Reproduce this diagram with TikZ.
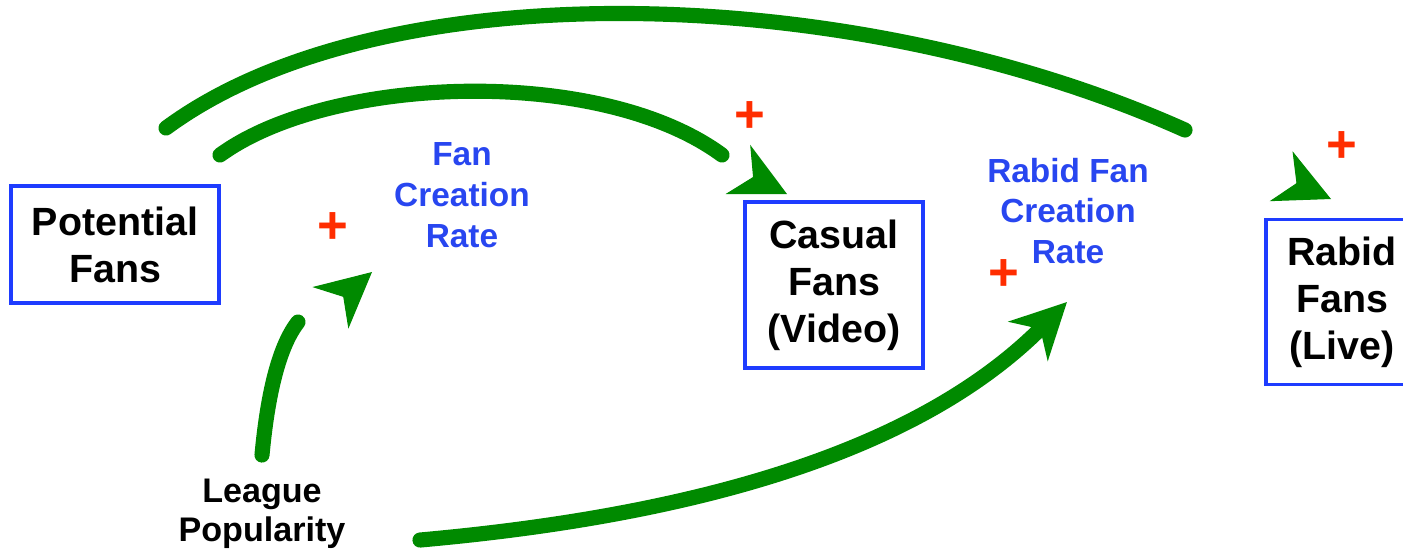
\documentclass[tikz,border=0pt]{standalone}
\usepackage{fontspec}
\setmainfont{Liberation Sans}
\usetikzlibrary{arrows.meta}
\definecolor{flowgreen}{RGB}{0,138,0}
\definecolor{boxblue}{RGB}{30,60,255}
\definecolor{rateblue}{RGB}{40,70,240}
\definecolor{plusred}{RGB}{255,45,0}
\tikzset{
  stock/.style={draw=boxblue, line width=1pt, align=center, inner sep=0pt,
    font=\fontsize{11.2}{13.4}\selectfont\bfseries},
  rate/.style={text=rateblue, align=center, inner sep=0pt,
    font=\fontsize{9.5}{11.6}\selectfont\bfseries},
  aux/.style={align=center, inner sep=0pt,
    font=\fontsize{9.7}{11.2}\selectfont\bfseries},
  link/.style={flowgreen, line width=4.3pt},
  tiphead/.style={flowgreen, line width=0.3pt,
    -{Stealth[length=15.6pt,width=15.6pt,inset=4.8pt]}},
  polarity/.style={text=plusred, inner sep=0pt,
    font=\fontsize{15}{15}\selectfont\bfseries}
}

\begin{document}
\begin{tikzpicture}[x=0.01cm, y=-0.01cm]
    \useasboundingbox (0,0) rectangle (1403,553);
    \clip (0,0) rectangle (1403,553);
    % Stocks (the boxes).
        \node[stock, minimum width=2.08cm, minimum height=1.17cm] (potential) at (115,244.5) {Potential\\Fans};
        \node[stock, minimum width=1.78cm, minimum height=1.66cm] (casual) at (834,285) {Casual\\Fans\\(Video)};
        \node[stock, minimum width=1.52cm, minimum height=1.65cm] (rabid) at (1342,302) {Rabid\\Fans\\(Live)};
    % Rates and the driver.
        \node[rate] (fanrate) at (462,195) {Fan\\Creation\\Rate};
        \node[rate] (rabidrate) at (1068,211) {Rabid Fan\\Creation\\Rate};
        \node[aux] (league) at (262,514) {League\\Popularity};
    % Ends of the links.
        \coordinate (potA) at (220,155);
        \coordinate (potB) at (166,128);
        \coordinate (leaA) at (262,455);
        \coordinate (leaB) at (420,540);
        \coordinate (casEnd) at (722,155);
        \coordinate (rabEnd) at (1185,130);
        \coordinate (fanEnd) at (298,322);
    % The links.
        \draw[link] (potA) .. controls (330,75) and (600,65) .. (casEnd) [line cap=round];
        \draw[link] (potB) .. controls (380,-30) and (850,-20) .. (rabEnd) [line cap=round];
        \draw[link, line cap=round] (leaA) .. controls (268,390) and (280,345) .. (fanEnd);
        \draw[link, line cap=round, -{Stealth[length=15.6pt,width=15.6pt,inset=4.8pt]}]
            (leaB) .. controls (700,515) and (920,450) .. (1067,302);
    % Loose arrow heads.
        \draw[tiphead] (753,177) -- (787,194);
        \draw[tiphead] (343,297) -- (372,272);
        \draw[tiphead] (1296,183) -- (1331,199);
    % Polarity signs.
        \node[polarity] (pcas) at (750,117) {+};
        \node[polarity] (pfan) at (333,228) {+};
        \node[polarity] (prab) at (1004,275) {+};
        \node[polarity] (plive) at (1342,147) {+};
\end{tikzpicture}
\end{document}
